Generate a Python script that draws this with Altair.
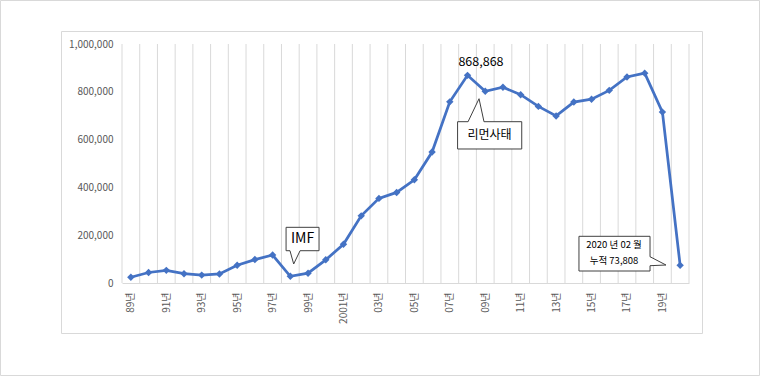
import altair as alt
import pandas as pd

# ---- data -------------------------------------------------------------
years = list(range(1989, 2021))
counts = [24000, 44000, 53000, 39000, 33000, 38000, 74000, 98000, 117000, 28000,
          41000, 97000, 162000, 281000, 354000, 379000, 432000, 548000, 758000, 868868,
          802000, 819000, 788000, 739000, 699000, 757000, 769000, 806000, 862000, 878000,
          715000, 73808]
label_years = list(range(1989, 2020, 2))
label_texts = ["89년", "91년", "93년", "95년", "97년", "99년", "2001년", "03년",
               "05년", "07년", "09년", "11년", "13년", "15년", "17년", "19년"]
y_ticks = [0, 200000, 400000, 600000, 800000, 1000000]

peak_text = "868,868"
callout_texts = ["IMF", "리먼사태", "2020 년 02 월", "누적 73,808"]

# ---- styling ----------------------------------------------------------
FONT = "Noto Sans CJK KR"
BLUE = "#4472C4"
GRID = "#d9d9d9"
LABEL = "#595959"
EDGE = "#404040"

W, H = 567, 239
PAD = {"left": 122, "top": 44, "right": 71, "bottom": 93}

df = pd.DataFrame({"year": years, "count": counts})
bounds = [y - 0.5 for y in years] + [years[-1] + 0.5]
grid_df = pd.DataFrame({"b": bounds})

xs = alt.Scale(domain=[years[0] - 0.5, years[-1] + 0.5], nice=False, zero=False)
ys = alt.Scale(domain=[0, 1000000], nice=False)

arr = "[" + ",".join("'" + t + "'" for t in label_texts) + "]"
x_axis = alt.Axis(values=label_years, labelExpr=f"{arr}[(datum.value-{label_years[0]})/2]",
                  labelAngle=270, labelFontSize=10, labelColor=LABEL, labelFont=FONT,
                  labelPadding=9, ticks=False, grid=False, domainColor=GRID, title=None)
y_axis = alt.Axis(values=y_ticks, labelExpr="format(datum.value, ',')", labelFontSize=10,
                  labelColor=LABEL, labelFont=FONT, labelPadding=9, ticks=False, grid=False,
                  domain=False, title=None)


def X(field):
    return alt.X(field, scale=xs, axis=x_axis)


def Y(field):
    return alt.Y(field, scale=ys, axis=y_axis)


one = pd.DataFrame({"a": [0]})

# frames (decoration around the chart)
outer = alt.Chart(one).mark_rect(fill=None, stroke=GRID, strokeWidth=1).encode(
    x=alt.value(-PAD["left"] + 0.5), x2=alt.value(W + PAD["right"] - 0.5),
    y=alt.value(-PAD["top"] + 0.5), y2=alt.value(H + PAD["bottom"] - 0.5))
inner = alt.Chart(one).mark_rect(fill=None, stroke=GRID, strokeWidth=1).encode(
    x=alt.value(-60.5), x2=alt.value(580.5), y=alt.value(-12.5), y2=alt.value(289.5))

grid = alt.Chart(grid_df).mark_rule(color=GRID, strokeWidth=1).encode(
    x=X("b:Q"),
    y=alt.datum(0, type="quantitative", scale=ys, axis=y_axis),
    y2=alt.datum(1000000))

line = alt.Chart(df).mark_line(color=BLUE, strokeWidth=2.75).encode(
    x=X("year:Q"), y=Y("count:Q"))
pts = alt.Chart(df).mark_point(shape="diamond", filled=True, color=BLUE, size=55, opacity=1).encode(
    x=X("year:Q"), y=Y("count:Q"))

# callout boxes (data coordinates)
box_df = pd.DataFrame({"x1": [1997.76, 2007.44, 2014.29],
                       "x2": [1999.62, 2011.06, 2018.30],
                       "y1": [135100, 560700, 50200],
                       "y2": [233000, 674900, 195400]})
boxes = alt.Chart(box_df).mark_rect(fill="white", stroke=EDGE, strokeWidth=1).encode(
    x=X("x1:Q"), x2="x2:Q", y=Y("y1:Q"), y2="y2:Q")

pv_df = pd.DataFrame({
    "g": ["a", "a", "a", "b", "b", "b"],
    "i": [0, 1, 2, 0, 1, 2],
    "x": [1997.98, 1998.19, 1998.55, 2008.03, 2008.65, 2008.93],
    "y": [135100, 79500, 135100, 674900, 771100, 674900],
    "y2": [150000, 150000, 150000, 655000, 655000, 655000]})
ph_df = pd.DataFrame({
    "g": ["c", "c", "c"], "i": [0, 1, 2],
    "y": [110000, 75300, 72400],
    "x": [2018.30, 2019.20, 2018.30],
    "x2": [2018.12, 2018.12, 2018.12]})

ptr_fill_v = alt.Chart(pv_df).mark_area(color="white", opacity=1).encode(
    x=X("x:Q"), y=Y("y:Q"), y2="y2:Q", detail="g:N")
ptr_fill_h = alt.Chart(ph_df).mark_area(color="white", opacity=1, orient="horizontal").encode(
    y=Y("y:Q"), x=X("x:Q"), x2="x2:Q", detail="g:N")
ptr_lines = alt.Chart(pd.concat([pv_df[["g", "i", "x", "y"]], ph_df[["g", "i", "x", "y"]]])).mark_line(
    color=EDGE, strokeWidth=1).encode(
    x=X("x:Q"), y=Y("y:Q"), detail="g:N", order="i:Q")

txt_df = pd.DataFrame({
    "t": [peak_text] + callout_texts,
    "x": [2008.76, 1998.69, 2009.24, 2016.27, 2016.27],
    "y": [924700, 184100, 618000, 159000, 92000],
    "s": [12.5, 14, 12, 9.5, 9.5]})
texts = alt.Chart(txt_df).mark_text(color="black", font=FONT, baseline="middle", align="center").encode(
    x=X("x:Q"), y=Y("y:Q"),
    text="t:N", size=alt.Size("s:Q", scale=None, legend=None))

chart = alt.layer(outer, inner, grid, line, pts, boxes, ptr_fill_v, ptr_fill_h, ptr_lines, texts).properties(
    width=W, height=H, padding=PAD, autosize=alt.AutoSizeParams(type="none"),
    background="white"
).configure_view(stroke=None)

chart.save("out.html", embed_options={"renderer": "svg", "actions": False})
